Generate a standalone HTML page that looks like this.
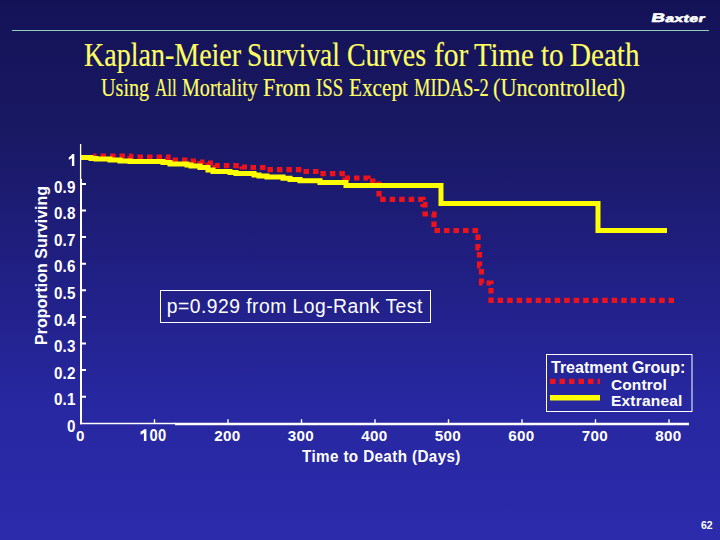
<!DOCTYPE html>
<html><head><meta charset="utf-8">
<style>
html,body{margin:0;padding:0;}
body{width:720px;height:540px;overflow:hidden;position:relative;
background:linear-gradient(to bottom,rgb(20,18,87) 0px,rgb(24,24,98) 127px,rgb(32,31,130) 267px,rgb(39,39,160) 400px,rgb(43,43,172) 540px);
font-family:"Liberation Sans",sans-serif;}
.t{position:absolute;white-space:nowrap;line-height:1;}
.title{font-family:"Liberation Serif",serif;color:#ffff60;transform-origin:0 0;-webkit-text-stroke:0.15px #ffff60;}
.w{color:#fff;font-weight:bold;}
</style></head><body>
<div class="t" style="left:650px;top:8.5px;font-family:'Liberation Sans',sans-serif;font-weight:bold;color:#fff;transform:skewX(-12deg) scaleX(1.5);transform-origin:0 100%;-webkit-text-stroke:0.6px #fff;letter-spacing:0.3px"><span style="font-size:12.5px">B</span><span style="font-size:10.5px">axter</span></div>
<div style="position:absolute;left:12px;top:30px;width:697px;height:1px;background:#8fd0b6"></div>
<div class="t title" style="left:84.05px;top:39.2px;font-size:33px;transform:scaleX(0.8489)">Kaplan-Meier</div>
<div class="t title" style="left:247.24px;top:39.2px;font-size:33px;transform:scaleX(0.8303)">Survival</div>
<div class="t title" style="left:346.95px;top:39.2px;font-size:33px;transform:scaleX(0.8457)">Curves</div>
<div class="t title" style="left:434.41px;top:39.2px;font-size:33px;transform:scaleX(0.8946)">for</div>
<div class="t title" style="left:473.75px;top:39.2px;font-size:33px;transform:scaleX(0.8713)">Time</div>
<div class="t title" style="left:540.82px;top:39.2px;font-size:33px;transform:scaleX(0.8833)">to</div>
<div class="t title" style="left:570.37px;top:39.2px;font-size:33px;transform:scaleX(0.8814)">Death</div>
<div class="t title" style="left:100.80px;top:76.2px;font-size:24.5px;transform:scaleX(0.8224)">Using</div>
<div class="t title" style="left:155.30px;top:76.2px;font-size:24.5px;transform:scaleX(0.6903)">All</div>
<div class="t title" style="left:181.68px;top:76.2px;font-size:24.5px;transform:scaleX(0.8198)">Mortality</div>
<div class="t title" style="left:263.00px;top:76.2px;font-size:24.5px;transform:scaleX(0.8981)">From</div>
<div class="t title" style="left:315.63px;top:76.2px;font-size:24.5px;transform:scaleX(0.7667)">ISS</div>
<div class="t title" style="left:348.63px;top:76.2px;font-size:24.5px;transform:scaleX(0.8657)">Except</div>
<div class="t title" style="left:413.55px;top:76.2px;font-size:24.5px;transform:scaleX(0.7526)">MIDAS-2</div>
<div class="t title" style="left:493.09px;top:76.2px;font-size:24.5px;transform:scaleX(0.9083)">(Uncontrolled)</div>

<svg width="720" height="540" style="position:absolute;left:0;top:0">
<g stroke="#fff" stroke-width="2" fill="none">
<path d="M80.6 144 V180" stroke-width="1.3"/>
<path d="M81 179 V424.2"/>
<path d="M80 423.5 H175.5" stroke-width="1.5"/>
<path d="M175 424 H689" stroke-width="2.4"/>
<path d="M81 396.7 h5 M81 370.1 h5 M81 343.5 h5 M81 316.9 h5 M81 290.3 h5 M81 263.7 h5 M81 237.1 h5 M81 210.5 h5 M81 183.9 h5"/>
<path stroke-width="1.4" d="M154.5 423.5 v-4.3 M228 424 v-4.8 M301.5 424 v-4.8 M375 424 v-4.8 M448.5 424 v-4.8 M522 424 v-4.8 M595.5 424 v-4.8 M669 424 v-4.8"/>
</g>
<path fill="none" stroke="#f0121a" stroke-width="5.2" stroke-dasharray="5.5 4"
 d="M83 157.5 H96 V156 H130 V157 H168 V160 H190 V161 H200 V162 H208 V163 H215 V165.7 H242 V167 H250 V167.5 H266 V169.6 H302 V171.5 H320 V173.6 H345 V178 H368 V181 H379 V199.3 H423 V204.5 H425 V214 H434 V230.5 H478 V248 H479.5 V266 H481.5 V283 H491 V300.3 H674"/>
<path fill="none" stroke="#ffff00" stroke-width="5"
 d="M81 157.5 H91 V158.5 H96 V159 H110 V160 H120 V161 H130 V161.5 H163 V162.5 H170 V164 H187 V165 H191 V166 H200 V167.5 H208 V170 H213 V171.5 H230 V172.5 H236 V173.5 H254 V175 H259 V176 H267 V177 H283 V178.3 H290 V179.5 H300 V180.8 H320 V182.5 H346 V185.5 H441 V203.5 H598 V230.5 H667"/>
<rect x="160.5" y="290.5" width="270" height="32" fill="none" stroke="#fff" stroke-width="1"/>
<rect x="546.5" y="354.5" width="145.5" height="57" fill="none" stroke="#fff" stroke-width="1"/>
<path d="M550 381.3 H600" stroke="#f0121a" stroke-width="5.2" stroke-dasharray="5.5 4"/>
<path d="M550 397.8 H600" stroke="#ffff00" stroke-width="5.5"/>
</svg>

<div class="t" style="left:166.8px;top:296.7px;font-size:19.3px;letter-spacing:0.48px;color:#fff">p=0.929 from Log-Rank Test</div>

<div class="t w" style="left:33.5px;top:344.5px;font-size:16px;transform:rotate(-90deg);transform-origin:0 0">Proportion Surviving</div>

<svg width="720" height="540" style="position:absolute;left:0;top:0"><path fill="#fff" d="M68.8 157.2 Q71.2 156.2 72.2 154 H74.3 V166 H71.9 V158 Q70.6 159.2 68.8 159.8 Z"/><path fill="#fff" d="M140.6 431.6 Q143.2 430.6 144.1 429.3 H146.4 V440.9 H143.9 V433 Q142.4 434.2 140.6 434.8 Z"/></svg>
<div class="t w" style="left:0;width:75.6px;text-align:right;letter-spacing:0.2px;top:179.5px;font-size:15.2px;transform:scaleY(1.04);transform-origin:0 84.65%">0.9</div>
<div class="t w" style="left:0;width:75.6px;text-align:right;letter-spacing:0.2px;top:206.1px;font-size:15.2px;transform:scaleY(1.04);transform-origin:0 84.65%">0.8</div>
<div class="t w" style="left:0;width:75.6px;text-align:right;letter-spacing:0.2px;top:232.7px;font-size:15.2px;transform:scaleY(1.04);transform-origin:0 84.65%">0.7</div>
<div class="t w" style="left:0;width:75.6px;text-align:right;letter-spacing:0.2px;top:259.3px;font-size:15.2px;transform:scaleY(1.04);transform-origin:0 84.65%">0.6</div>
<div class="t w" style="left:0;width:75.6px;text-align:right;letter-spacing:0.2px;top:285.9px;font-size:15.2px;transform:scaleY(1.04);transform-origin:0 84.65%">0.5</div>
<div class="t w" style="left:0;width:75.6px;text-align:right;letter-spacing:0.2px;top:312.5px;font-size:15.2px;transform:scaleY(1.04);transform-origin:0 84.65%">0.4</div>
<div class="t w" style="left:0;width:75.6px;text-align:right;letter-spacing:0.2px;top:339.1px;font-size:15.2px;transform:scaleY(1.04);transform-origin:0 84.65%">0.3</div>
<div class="t w" style="left:0;width:75.6px;text-align:right;letter-spacing:0.2px;top:365.7px;font-size:15.2px;transform:scaleY(1.04);transform-origin:0 84.65%">0.2</div>
<div class="t w" style="left:0;width:75.6px;text-align:right;letter-spacing:0.2px;top:392.3px;font-size:15.2px;transform:scaleY(1.04);transform-origin:0 84.65%">0.1</div>
<div class="t w" style="left:0;width:75.6px;text-align:right;letter-spacing:0.2px;top:418.9px;font-size:15.2px;transform:scaleY(1.04);transform-origin:0 84.65%">0</div>

<div class="t w" style="left:30.3px;width:100px;text-align:center;top:427.5px;font-size:15.2px;letter-spacing:0.3px;transform:scale(1,1.02);transform-origin:50% 84.65%">0</div>
<div class="t w" style="left:108.4px;width:100px;text-align:center;top:427.5px;font-size:15.2px;letter-spacing:0.3px;transform:scale(0.97,1.04);transform-origin:50% 84.65%">00</div>
<div class="t w" style="left:177.3px;width:100px;text-align:center;top:427.5px;font-size:15.2px;letter-spacing:0.3px;transform:scale(1,1.02);transform-origin:50% 84.65%">200</div>
<div class="t w" style="left:250.8px;width:100px;text-align:center;top:427.5px;font-size:15.2px;letter-spacing:0.3px;transform:scale(1,1.02);transform-origin:50% 84.65%">300</div>
<div class="t w" style="left:324.3px;width:100px;text-align:center;top:427.5px;font-size:15.2px;letter-spacing:0.3px;transform:scale(1,1.02);transform-origin:50% 84.65%">400</div>
<div class="t w" style="left:397.8px;width:100px;text-align:center;top:427.5px;font-size:15.2px;letter-spacing:0.3px;transform:scale(1,1.02);transform-origin:50% 84.65%">500</div>
<div class="t w" style="left:471.3px;width:100px;text-align:center;top:427.5px;font-size:15.2px;letter-spacing:0.3px;transform:scale(1,1.02);transform-origin:50% 84.65%">600</div>
<div class="t w" style="left:544.8px;width:100px;text-align:center;top:427.5px;font-size:15.2px;letter-spacing:0.3px;transform:scale(1,1.02);transform-origin:50% 84.65%">700</div>
<div class="t w" style="left:618.3px;width:100px;text-align:center;top:427.5px;font-size:15.2px;letter-spacing:0.3px;transform:scale(1,1.02);transform-origin:50% 84.65%">800</div>

<div class="t w" style="left:302px;top:448.7px;font-size:15.2px;letter-spacing:0.4px;transform:scaleY(1.05);transform-origin:0 84.65%">Time to Death (Days)</div>

<div class="t w" style="left:551px;top:360px;font-size:16px">Treatment Group:</div>
<div class="t w" style="left:611px;top:376.6px;font-size:15.5px;letter-spacing:0.1px">Control</div>
<div class="t w" style="left:611px;top:392.8px;font-size:15.5px;letter-spacing:0.2px">Extraneal</div>

<div class="t w" style="left:700.8px;top:521.3px;font-size:10px;transform:scaleX(1.05);transform-origin:0 0">62</div>
</body></html>
